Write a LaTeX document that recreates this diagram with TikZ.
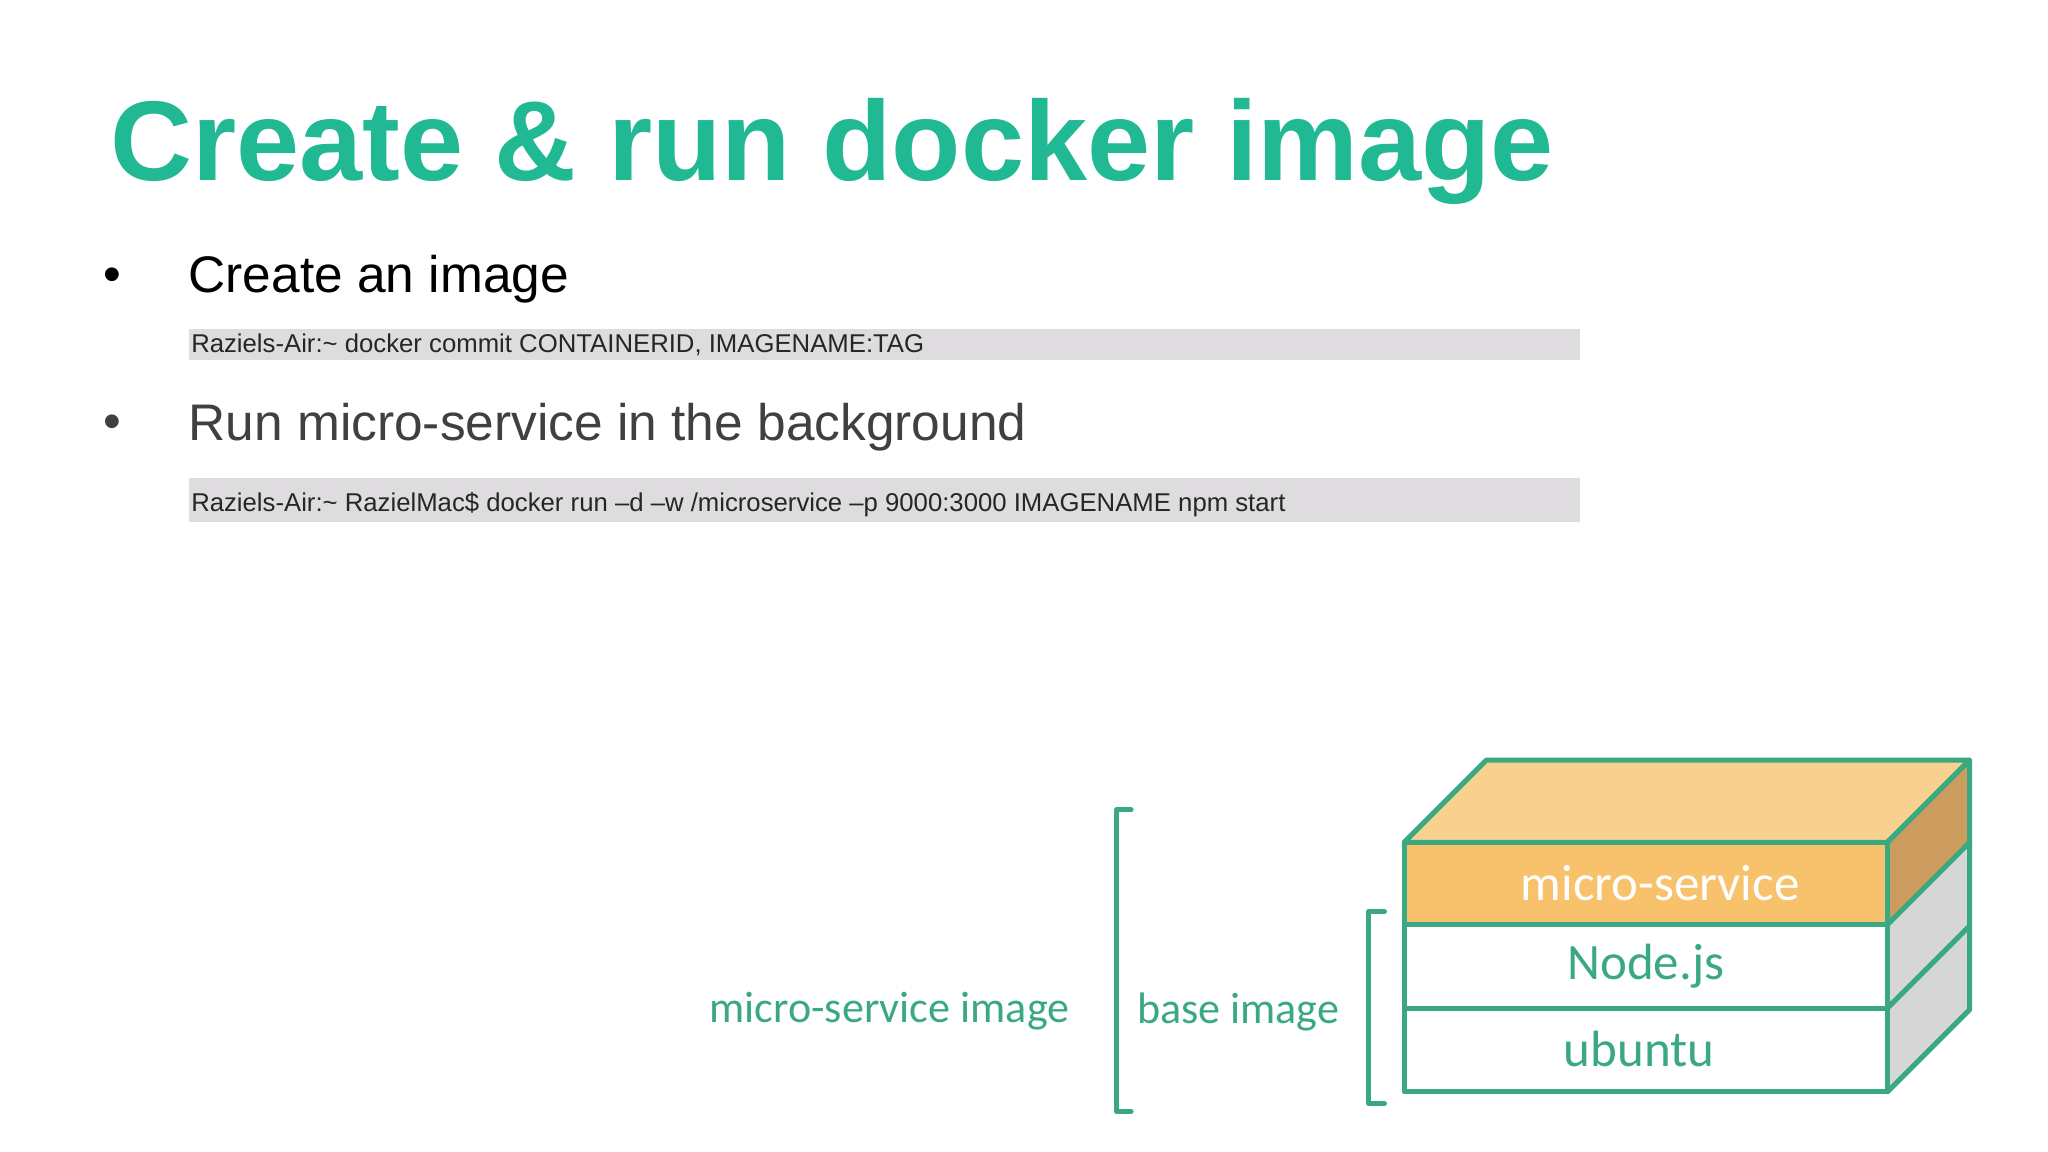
\documentclass[tikz,border=0pt]{standalone}
\usepackage{fontspec}
\setmainfont{Liberation Sans}
\newfontfamily\carlitofont{Carlito}
\definecolor{ttl}{HTML}{21B993}
\definecolor{grn}{HTML}{3AA982}
\definecolor{codebg}{HTML}{DEDCDE}
\definecolor{toporange}{HTML}{F8D190}
\definecolor{frontorange}{HTML}{F8C26C}
\definecolor{sideorange}{HTML}{CC9C5E}
\definecolor{sidegray}{HTML}{D6D6D6}
\begin{document}
\begin{tikzpicture}[x=0.01cm,y=-0.01cm,
  edge/.style={draw=grn,line width=1.1pt,line join=round},
  code/.style={fill=codebg,draw=none},
  codetxt/.style={anchor=west,font=\fontsize{5.6pt}{6pt}\selectfont,text=black!85},
  bul/.style={anchor=west,font=\fontsize{11.2pt}{13pt}\selectfont},
  lbl/.style={font=\carlitofont\fontsize{11.1pt}{13pt}\selectfont,text=grn},
  side/.style={font=\carlitofont\fontsize{9.6pt}{11pt}\selectfont,text=grn}]
\useasboundingbox (0,0) rectangle (1568,882);
\node[anchor=west,font=\bfseries\fontsize{24.7pt}{28pt}\selectfont,text=ttl] (title) at (72,116) {Create \& run docker image};
\node[anchor=center,font=\fontsize{11pt}{13pt}\selectfont] (b1) at (86,214) {•};
\node[bul,text=black] (t1) at (132,214) {Create an image};
\fill[code] (145,252) rectangle (1210,276);
\node[codetxt] (c1) at (134,264) {Raziels-Air:\textasciitilde{} docker commit CONTAINERID, IMAGENAME:TAG};
\node[anchor=center,font=\fontsize{11pt}{13pt}\selectfont,text=black!75] (b2) at (86,327) {•};
\node[bul,text=black!75] (t2) at (132,327) {Run micro-service in the background};
\fill[code] (145,366) rectangle (1210,400);
\node[codetxt] (c2) at (134,386) {Raziels-Air:\textasciitilde{} RazielMac\$ docker run –d –w /microservice –p 9000:3000 IMAGENAME npm start};
% cube
\filldraw[edge,fill=toporange] (1075,645) -- (1138,582) -- (1508,582) -- (1445,645) -- cycle;
\filldraw[edge,fill=sideorange] (1445,645) -- (1508,582) -- (1508,645) -- (1445,708) -- cycle;
\filldraw[edge,fill=sidegray] (1445,708) -- (1508,645) -- (1508,709) -- (1445,772) -- cycle;
\filldraw[edge,fill=sidegray] (1445,772) -- (1508,709) -- (1508,773) -- (1445,836) -- cycle;
\filldraw[edge,fill=frontorange] (1075,645) rectangle (1445,708);
\filldraw[edge,fill=white] (1075,708) rectangle (1445,772);
\filldraw[edge,fill=white] (1075,772) rectangle (1445,836);
\node[lbl,text=white] (ms) at (1271,676) {micro-service};
\node[lbl] (nj) at (1260,740) {Node.js};
\node[lbl] (ub) at (1255,803) {ubuntu};
% brackets
\draw[edge,line cap=round] (866,620) -- (855,620) -- (855,851) -- (866,851);
\draw[edge,line cap=round] (1060,698) -- (1048,698) -- (1048,845) -- (1060,845);
\node[side] (msi) at (681,774) {micro-service image};
\node[side] (bi) at (948,775) {base image};
\end{tikzpicture}
\end{document}
